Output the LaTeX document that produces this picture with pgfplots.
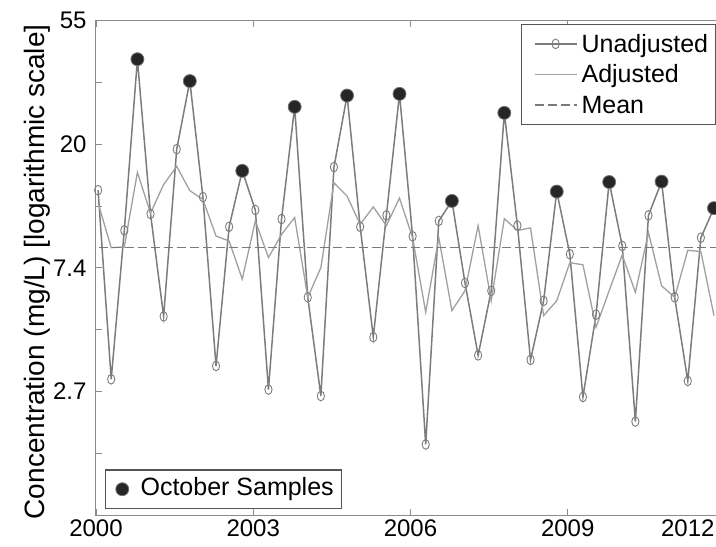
\documentclass[border=0pt]{standalone}
\usepackage{fontspec}
\setmainfont{Liberation Sans}
\usepackage{pgfplots}
\usepackage{pgfplotstable}
\pgfplotsset{compat=1.18}
\definecolor{unadjc}{HTML}{7C7C7C}
\definecolor{adjc}{HTML}{A0A0A0}
\definecolor{meanc}{HTML}{7A7A7A}
\definecolor{octc}{HTML}{262626}
\definecolor{axisc}{HTML}{8A8A8A}
\definecolor{legc}{HTML}{555555}

\pgfplotstableread{
x y
2000.04 13.85
2000.29 3.00
2000.54 10.01
2000.79 39.98
2001.04 11.44
2001.29 4.99
2001.54 19.3
2001.79 33.5
2002.04 13.1
2002.29 3.34
2002.54 10.3
2002.79 16.2
2003.04 11.8
2003.29 2.76
2003.54 10.97
2003.79 27.2
2004.04 5.82
2004.29 2.62
2004.54 16.7
2004.79 29.8
2005.04 10.3
2005.29 4.22
2005.54 11.3
2005.79 30.2
2006.04 9.54
2006.29 1.77
2006.54 10.8
2006.79 12.7
2007.04 6.54
2007.29 3.64
2007.54 6.14
2007.79 25.9
2008.04 10.4
2008.29 3.51
2008.54 5.66
2008.79 13.7
2009.04 8.25
2009.29 2.60
2009.54 5.06
2009.79 14.8
2010.04 8.82
2010.29 2.13
2010.54 11.3
2010.79 14.85
2011.04 5.82
2011.29 2.96
2011.54 9.43
2011.79 11.98
}\unadjtab

\pgfplotstableread{
x y
2000.04 12.5
2000.29 8.70
2000.54 8.75
2000.79 16.0
2001.04 11.5
2001.29 14.5
2001.54 16.8
2001.79 13.8
2002.04 12.85
2002.29 9.56
2002.54 9.18
2002.79 6.75
2003.04 10.8
2003.29 8.03
2003.54 9.69
2003.79 11.1
2004.04 5.82
2004.29 7.40
2004.54 14.7
2004.79 13.2
2005.04 10.5
2005.29 12.1
2005.54 10.4
2005.79 13.0
2006.04 9.43
2006.29 5.16
2006.54 9.43
2006.79 5.23
2007.04 6.14
2007.29 10.4
2007.54 5.66
2007.79 11.0
2008.04 10.0
2008.29 10.2
2008.54 5.02
2008.79 5.66
2009.04 7.71
2009.29 7.57
2009.54 4.57
2009.79 6.14
2010.04 8.21
2010.29 6.06
2010.54 9.82
2010.79 6.39
2011.04 5.82
2011.29 8.52
2011.54 8.43
2011.79 5.02
}\adjtab

\pgfplotstableread{
x y
2000.79 39.98
2001.79 33.5
2002.79 16.2
2003.79 27.2
2004.79 29.8
2005.79 30.2
2006.79 12.7
2007.79 25.9
2008.79 13.7
2009.79 14.8
2010.79 14.85
2011.79 11.98
}\octtab

\begin{document}
\begin{tikzpicture}
\begin{axis}[
  at={(0pt,0pt)}, anchor=south west,
  scale only axis, width=629pt, height=494.3pt,
  xmin=2000, xmax=2012, ymode=log, ymin=1, ymax=54.5982,
  clip=false,
  axis line style={axisc, line width=1pt},
  tick style={axisc, line width=0.9pt},
  major tick length=6pt,
  /pgf/number format/assume math mode=true,
  xtick={2000,2003,2006,2009}, xticklabels={2000,2003,2006,2009},
  extra x ticks={2012}, extra x tick labels={2012},
  extra x tick style={xticklabel style={anchor=north east, xshift=-7pt}},
  ytick={1.64872,2.71828,4.48169,7.38906,12.18249,20.08554,33.11545,54.59815},
  yticklabels={,2.7,,7.4,,20,,55},
  ticklabel style={font=\fontsize{24}{28}\selectfont, text=black},
  xticklabel style={yshift=-1pt},
  yticklabel style={xshift=-6pt},
  ylabel={Concentration (mg/L) [logarithmic scale]},
  ylabel style={at={(axis description cs:0,0.492)}, anchor=south, yshift=45pt, inner sep=0pt, font=\fontsize{28}{32}\selectfont},
  legend style={at={(0.6757,0.9933)}, anchor=north west, draw=legc, line width=1.2pt, fill=white,
    font=\fontsize{25}{30}\selectfont, inner xsep=4pt, inner ysep=4pt,
    nodes={inner xsep=4pt, inner ysep=2pt, text height=21.5pt, text depth=5pt}, row sep=0pt},
  legend cell align=left,
  legend image code/.code={\path[draw=none] (0pt,0pt) -- (52pt,0pt); \draw[mark repeat=2,mark phase=2,#1] plot coordinates {(9pt,0pt) (30pt,0pt) (51pt,0pt)};},
]
\addplot[unadjc, line width=1.5pt, mark=o, mark size=3.6pt, mark options={solid, line width=0.9pt, yscale=1.35, fill=none}] table[x=x,y=y]{\unadjtab};
\addlegendentry{Unadjusted}
\addplot[adjc, line width=1.3pt] table[x=x,y=y]{\adjtab};
\addlegendentry{Adjusted}
\addplot[meanc, line width=1.4pt, dash pattern=on 9pt off 4pt] coordinates {(2000.05,8.70) (2012,8.70)};
\addlegendentry{Mean}
\end{axis}
\begin{axis}[
  at={(0pt,0pt)}, anchor=south west,
  scale only axis, width=629pt, height=494.3pt,
  xmin=2000, xmax=2012, ymode=log, ymin=1, ymax=54.5982,
  clip=false, hide axis,
  legend style={at={(0.0143,0.012)}, anchor=south west, draw=legc, line width=1.2pt, fill=white,
    font=\fontsize{25}{30}\selectfont, inner xsep=4pt, inner ysep=5.5pt,
    nodes={inner xsep=4pt, inner ysep=2pt, text height=18pt, text depth=5.5pt}},
  legend cell align=left,
  legend image code/.code={\path[draw=none] (0pt,0pt) -- (27pt,0pt); \draw[#1] plot coordinates {(12.7pt,0pt)};},
]
\addplot[only marks, mark=*, mark size=6.5pt, mark options={fill=octc, draw=black!55, line width=0.8pt}] table[x=x,y=y]{\octtab};
\addlegendentry{October Samples}
\end{axis}
\pgfresetboundingbox
\path[use as bounding box] (-96pt,-32pt) rectangle (620pt,515pt);
\end{tikzpicture}
\end{document}
